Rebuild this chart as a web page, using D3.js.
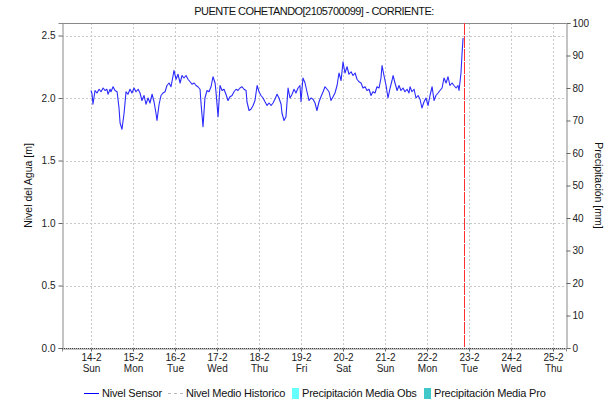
<!DOCTYPE html>
<html><head><meta charset="utf-8">
<script src="https://cdn.jsdelivr.net/npm/d3@7"></script>
<style>
html,body{margin:0;padding:0;background:#fff;}
text{font-family:"Liberation Sans",Arial,sans-serif;}
</style></head>
<body><svg id="c" width="615" height="402"></svg>
<script>
// ---- data ----
const title = "PUENTE COHETANDO[2105700099] - CORRIENTE:";
const startTime = new Date(2021, 1, 14, 0, 0); // 14-2 00:00
const domainStart = new Date(2021, 1, 13, 7, 25);
const domainEnd = new Date(2021, 1, 25, 7, 25);
const nowTime = new Date(2021, 1, 22, 21, 10);
// hours since 14-2 00:00
const sensorHours = [0,0.6,1.1,2.3,3.4,4.6,5.7,6.9,8,9.1,9.7,10.9,11.4,12.6,13.7,14.9,16,16.6,17.7,18.9,20,21.1,22.3,23.4,24.6,25.7,26.9,28,29.1,30.3,31.4,32.6,33.7,34.9,36,37.1,37.7,38.9,40,41.1,42.3,43.4,44.6,45.7,46.9,47.4,48.6,49.7,50.9,52,53.1,54.3,55.4,56.6,57.7,58.9,60,61.1,62.3,62.9,64,65.1,66.3,67.4,68.6,69.7,70.9,71.4,72.6,73.7,74.9,76,77.1,78.3,79.4,80.6,81.7,82.9,84,85.1,86.3,87.4,88.6,89.1,90.3,91.4,92.6,93.7,94.9,96,97.1,98.3,99.4,100.6,101.7,102.9,104,105.1,106.3,107.4,108.6,109.1,110.3,111.4,112.6,113.7,114.9,116,117.1,118.3,119.4,120,121.1,122.3,123.4,124.6,125.7,126.9,128,129.1,130.3,131.4,132.6,133.7,134.9,136,137.1,138.3,139.4,140.6,141.7,142.9,144,145.1,146.3,147.4,148.6,149.7,150.9,152,153.1,154.3,155.4,156.6,157.7,158.9,160,161.1,162.3,163.4,164.6,165.7,166.3,167.4,168.6,169.7,170.9,172,172.6,173.7,174.9,176,177.1,178.3,179.4,180.6,181.7,182.3,183.4,184.6,185.7,186.9,188,189.1,190.3,191.4,192.6,193.7,194.9,196,197.1,198.3,199.4,200.6,201.7,202.9,204,205.1,206.3,207.4,208.6,209.7,210.3,211.4,212,212.6];
const sensorLevel = [2.06,2.03,1.95,2.06,2.04,2.07,2.05,2.08,2.06,2.07,2.03,2.07,2.05,2.09,2.06,2.05,1.92,1.80,1.75,1.88,2.05,2.03,2.07,2.04,2.08,2.05,2.07,2.04,1.98,2.02,1.95,2.00,1.96,2.03,1.97,1.88,1.82,1.95,2.02,2.04,2.05,2.10,2.12,2.09,2.18,2.22,2.15,2.19,2.12,2.18,2.16,2.18,2.15,2.13,2.11,2.12,2.10,2.09,2.07,1.95,1.77,2.00,2.06,2.05,2.09,2.17,2.12,2.05,1.85,2.10,2.06,2.07,2.03,1.98,2.01,2.02,2.05,2.07,2.06,2.08,2.09,2.07,2.06,1.97,1.90,1.91,1.94,1.98,2.10,2.05,2.02,2.00,1.97,1.94,1.96,1.94,1.96,1.99,2.03,2.00,1.95,1.88,1.82,1.85,2.08,2.00,2.03,2.07,2.04,2.08,2.10,1.97,2.16,2.12,2.05,1.98,2.00,1.99,1.96,1.90,1.97,2.01,2.05,2.09,2.07,2.05,1.98,2.01,2.04,2.10,2.20,2.14,2.29,2.20,2.25,2.19,2.21,2.18,2.20,2.15,2.13,2.12,2.08,2.09,2.06,2.07,2.02,2.05,2.04,2.09,2.08,2.16,2.26,2.18,2.10,2.00,2.08,2.14,2.18,2.12,2.06,2.10,2.06,2.08,2.05,2.07,2.04,2.09,2.05,2.07,2.00,2.02,1.99,1.92,1.97,2.00,1.94,2.02,2.09,1.98,2.02,2.04,2.06,2.08,2.16,2.12,2.17,2.10,2.12,2.10,2.08,2.10,2.06,2.20,2.35,2.48];
const histLevel = [0, 0];
const levelTicks = [0, 0.5, 1.0, 1.5, 2.0, 2.5];
const precipTicks = [0,10,20,30,40,50,60,70,80,90,100];
const dayNames = ["Sun","Mon","Tue","Wed","Thu","Fri","Sat"];
const legendItems = ["Nivel Sensor","Nivel Medio Historico","Precipitación Media Obs","Precipitación Media Pro"];
const legendColors = ["#0000ff","#b8b8b8","#66ffff","#40c8c8"];

// ---- layout ----
const svg = d3.select("#c");
const m = {l:62, r:566, t:23, b:348};
const x = d3.scaleTime().domain([domainStart, domainEnd]).range([m.l, m.r]);
const yL = d3.scaleLinear().domain([0, 2.6]).range([m.b, m.t]);
const yR = d3.scaleLinear().domain([0, 100]).range([m.b, m.t]);
const fmtDay = d3.timeFormat("%-d-%-m");
const days = d3.timeDay.range(d3.timeDay.ceil(domainStart), domainEnd);

// grid
const grid = svg.append("g");
grid.selectAll("line.v").data(days).join("line")
  .attr("x1", d=>x(d)+0.5).attr("x2", d=>x(d)+0.5).attr("y1", m.t).attr("y2", m.b)
  .attr("stroke", "#c8c8c8").attr("stroke-dasharray", "2,2");
grid.selectAll("line.h").data(levelTicks.filter(d=>d>0)).join("line")
  .attr("x1", m.l).attr("x2", m.r).attr("y1", d=>Math.round(yL(d))+0.5).attr("y2", d=>Math.round(yL(d))+0.5)
  .attr("stroke", "#c8c8c8").attr("stroke-dasharray", "2,2");

// frame
svg.append("line").attr("x1", m.l).attr("x2", m.r).attr("y1", m.t+0.5).attr("y2", m.t+0.5).attr("stroke", "#888");

// axes
const axL = svg.append("g").attr("transform", `translate(${m.l+0.5},0)`)
  .call(d3.axisLeft(yL).tickValues(levelTicks).tickFormat(d3.format(".1f")).tickSize(4).tickPadding(3));
const axR = svg.append("g").attr("transform", `translate(${m.r+0.5},0)`)
  .call(d3.axisRight(yR).tickValues(precipTicks).tickFormat(d3.format("d")).tickSize(4).tickPadding(2));
const axB = svg.append("g").attr("transform", `translate(0,${m.b+0.5})`)
  .call(d3.axisBottom(x).tickValues(days).tickFormat("").tickSize(3));
[axL, axR, axB].forEach(a=>{
  a.select(".domain").attr("stroke", "#888");
  a.selectAll(".tick line").attr("stroke", "#666");
  a.selectAll("text").attr("font-size", 10).attr("fill", "#222").attr("font-family", "Liberation Sans, Arial, sans-serif");
});
axB.selectAll(".tick").append("text").attr("y", 12).attr("text-anchor", "middle")
  .attr("font-size", 10).attr("fill", "#222").text(d=>fmtDay(d));
axB.selectAll(".tick").append("text").attr("y", 23).attr("text-anchor", "middle")
  .attr("font-size", 10).attr("fill", "#222").text(d=>dayNames[d.getDay()]);

// historic level (dotted along zero)
svg.append("path").datum(histLevel)
  .attr("d", d3.line().x((d,i)=>x(i===0?domainStart:domainEnd)).y(d=>Math.round(yL(d))+0.5))
  .attr("stroke", "#444").attr("stroke-dasharray", "1,1").attr("fill", "none");

// sensor line
const pts = sensorHours.map((h,i)=>({t:new Date(+startTime + h*3600000), v:sensorLevel[i]}));
svg.append("path").datum(pts)
  .attr("d", d3.line().x(d=>x(d.t)).y(d=>yL(d.v)))
  .attr("fill", "none").attr("stroke", "#2a2aff").attr("stroke-width", 1.1).attr("stroke-linejoin", "round");

// now line
svg.append("line").attr("x1", Math.round(x(nowTime))+0.5).attr("x2", Math.round(x(nowTime))+0.5)
  .attr("y1", m.t).attr("y2", m.b).attr("stroke", "#ff3030").attr("stroke-dasharray", "12,1");

// titles
svg.append("text").attr("x", (m.l+m.r)/2).attr("y", 15).attr("text-anchor", "middle")
  .attr("font-size", 11).attr("letter-spacing", "-0.55px").attr("fill", "#111").text(title);
svg.append("text").attr("transform", `translate(32,${(m.t+m.b)/2}) rotate(-90)`).attr("text-anchor", "middle")
  .attr("font-size", 10.5).attr("fill", "#111").text("Nivel del Agua [m]");
svg.append("text").attr("transform", `translate(595,${(m.t+m.b)/2}) rotate(90)`).attr("text-anchor", "middle")
  .attr("font-size", 10.5).attr("fill", "#111").text("Precipitación [mm]");

// legend
const leg = svg.append("g").attr("transform", "translate(0,393)");
const legX = [84, 168, 292, 424];
legendItems.forEach((name,i)=>{
  const g = leg.append("g").attr("transform", `translate(${legX[i]},0)`);
  let tx;
  if (i < 2) {
    g.append("line").attr("x1", 0).attr("x2", 15).attr("y1", 0.5).attr("y2", 0.5)
      .attr("stroke", legendColors[i]).attr("stroke-dasharray", i===1?"3,3":null);
    tx = 18;
  } else {
    g.append("rect").attr("x", 0).attr("y", -5).attr("width", 7).attr("height", 11).attr("fill", legendColors[i]);
    tx = 10;
  }
  g.append("text").attr("x", tx).attr("y", 4).attr("font-size", 11).attr("letter-spacing", "-0.2px")
    .attr("fill", "#111").text(name);
});
</script></body></html>
